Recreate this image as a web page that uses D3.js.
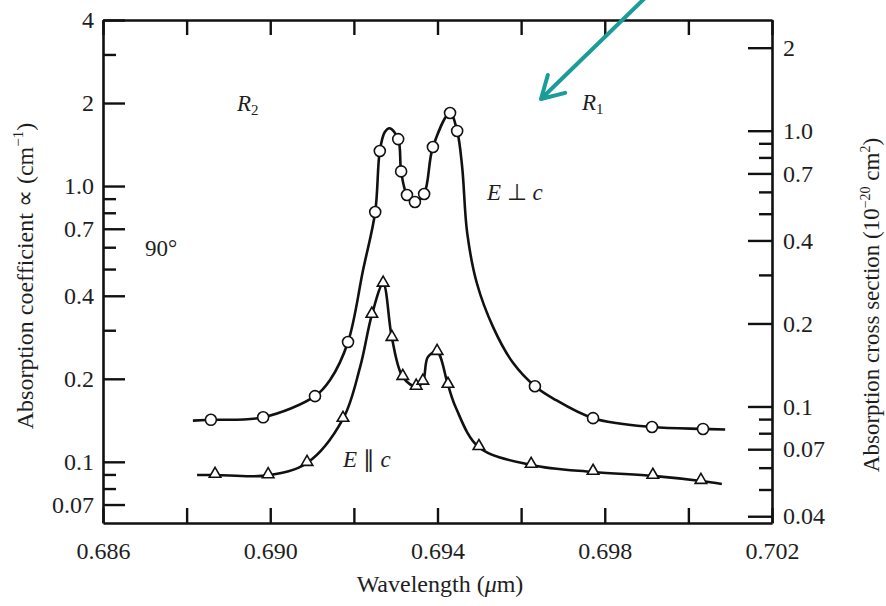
<!DOCTYPE html>
<html>
<head>
<meta charset="utf-8">
<script src="https://cdn.jsdelivr.net/npm/d3@7"></script>
<style>
  body { margin: 0; background: #fff; }
  svg text { font-family: "Liberation Serif", "Times New Roman", serif; fill: #1e1e1e; }
</style>
</head>
<body>
<div id="chart"></div>
<script>
var svgWidth = 886;
var svgHeight = 606;

// frame of the plot
var frame = { left: 103, right: 772, top: 20, bottom: 523 };

// E perpendicular c : marker points (wavelength um, alpha cm-1)
var perpMarkWl = [0.68858, 0.68983, 0.69107, 0.69186, 0.69251, 0.69262, 0.69306, 0.69313, 0.69327,
  0.69346, 0.69368, 0.69389, 0.69430, 0.69447, 0.69633, 0.69772, 0.69913, 0.70035];
var perpMarkA = [0.142, 0.145, 0.173, 0.272, 0.805, 1.34, 1.48, 1.13, 0.928,
  0.875, 0.936, 1.385, 1.84, 1.584, 0.188, 0.144, 0.1337, 0.1316];

// E perpendicular c : drawn curve
var perpLineWl = [0.68815, 0.68858, 0.68983, 0.69107, 0.69143, 0.69186, 0.69222, 0.69251, 0.69262,
  0.69274, 0.69286, 0.69306, 0.69313, 0.69327, 0.69346, 0.69368, 0.69389, 0.69430, 0.69447,
  0.69459, 0.69471, 0.69494, 0.69533, 0.69581, 0.69633, 0.69676, 0.69772, 0.69913, 0.70035, 0.70088];
var perpLineA = [0.141, 0.142, 0.145, 0.173, 0.198, 0.272, 0.496, 0.805, 1.34,
  1.57, 1.62, 1.48, 1.13, 0.928, 0.875, 0.936, 1.385, 1.84, 1.584,
  1.172, 0.676, 0.445, 0.308, 0.228, 0.188, 0.170, 0.144, 0.1337, 0.1316, 0.131];

// E parallel c : marker points
var paraMarkWl = [0.68868, 0.68995, 0.69088, 0.69174, 0.69243, 0.69270, 0.69291, 0.69317, 0.69349,
  0.69365, 0.69399, 0.69425, 0.69499, 0.69624, 0.69772, 0.69915, 0.70030];
var paraMarkA = [0.0896, 0.0893, 0.099, 0.143, 0.341, 0.442, 0.281, 0.203, 0.187,
  0.195, 0.250, 0.190, 0.113, 0.0974, 0.0919, 0.0889, 0.0852];

// E parallel c : drawn curve
var paraLineWl = [0.68825, 0.68868, 0.68995, 0.69088, 0.69174, 0.69215, 0.69243, 0.69270, 0.69291,
  0.69317, 0.69349, 0.69365, 0.69377, 0.69399, 0.69425, 0.69444, 0.69499, 0.69624, 0.69772,
  0.69915, 0.70030, 0.70080];
var paraLineA = [0.0896, 0.0896, 0.0893, 0.099, 0.143, 0.221, 0.341, 0.442, 0.281,
  0.203, 0.187, 0.195, 0.240, 0.250, 0.190, 0.157, 0.113, 0.0974, 0.0919,
  0.0889, 0.0852, 0.0831];

// ticks
var xMajor = [0.686, 0.690, 0.694, 0.698, 0.702];
var xMinor = [0.688, 0.692, 0.696, 0.700];
var leftMajor = [4, 2, 1, 0.7, 0.4, 0.2, 0.1, 0.07];
var leftMinor = [3, 0.9, 0.8, 0.6, 0.5, 0.3, 0.09, 0.08];
var rightMajor = [2, 1, 0.7, 0.4, 0.2, 0.1, 0.07, 0.04];
var rightMinor = [0.9, 0.8, 0.6, 0.5, 0.3, 0.09, 0.08, 0.06, 0.05];

// cross section = alpha / N
var sigmaFactor = 0.63;

var svg = d3.select("#chart")
  .append("svg")
  .attr("width", svgWidth)
  .attr("height", svgHeight);

svg.append("rect").attr("width", svgWidth).attr("height", svgHeight).attr("fill", "#fff");

var xScale = d3.scaleLinear().domain([0.686, 0.702]).range([frame.left, frame.right]);
var yLeft = d3.scaleLog().domain([0.06, 4]).range([frame.bottom, frame.top]);
var yRight = d3.scaleLog().domain([0.06 * sigmaFactor, 4 * sigmaFactor]).range([frame.bottom, frame.top]);

var numFmt = function(d) { return d === 1 ? "1.0" : String(d); };

function styleAxis(g, showDomain) {
  g.selectAll("line").attr("stroke", "#111").attr("stroke-width", 2.4);
  g.selectAll("text").attr("font-size", "24px").attr("fill", "#1e1e1e")
    .attr("font-family", "Liberation Serif, Times New Roman, serif");
  if (showDomain) {
    g.select(".domain").attr("stroke", "#111").attr("stroke-width", 2.6);
  } else {
    g.select(".domain").remove();
  }
}

// bottom axis
svg.append("g")
  .attr("transform", `translate(0, ${frame.bottom})`)
  .call(d3.axisBottom(xScale).tickValues(xMajor).tickFormat(d3.format(".3f"))
    .tickSize(-15).tickSizeOuter(0).tickPadding(19))
  .call(g => styleAxis(g, true));
svg.append("g")
  .attr("transform", `translate(0, ${frame.bottom})`)
  .call(d3.axisBottom(xScale).tickValues(xMinor).tickFormat("").tickSize(-15).tickSizeOuter(0))
  .call(g => styleAxis(g, false));

// top axis
svg.append("g")
  .attr("transform", `translate(0, ${frame.top})`)
  .call(d3.axisTop(xScale).tickValues(xMajor.concat(xMinor)).tickFormat("").tickSize(-15).tickSizeOuter(0))
  .call(g => styleAxis(g, true));

// left axis
svg.append("g")
  .attr("transform", `translate(${frame.left}, 0)`)
  .call(d3.axisLeft(yLeft).tickValues(leftMajor).tickFormat(numFmt)
    .tickSize(-22).tickSizeOuter(0).tickPadding(9))
  .call(g => styleAxis(g, true));
svg.append("g")
  .attr("transform", `translate(${frame.left}, 0)`)
  .call(d3.axisLeft(yLeft).tickValues(leftMinor).tickFormat("").tickSize(-13).tickSizeOuter(0))
  .call(g => styleAxis(g, false));

// right axis
svg.append("g")
  .attr("transform", `translate(${frame.right}, 0)`)
  .call(d3.axisRight(yRight).tickValues(rightMajor).tickFormat(numFmt)
    .tickSize(-24).tickSizeOuter(0).tickPadding(11))
  .call(g => styleAxis(g, true));
svg.append("g")
  .attr("transform", `translate(${frame.right}, 0)`)
  .call(d3.axisRight(yRight).tickValues(rightMinor).tickFormat("").tickSize(-13).tickSizeOuter(0))
  .call(g => styleAxis(g, false));

// curves
var line = d3.line()
  .x(d => xScale(d[0]))
  .y(d => yLeft(d[1]))
  .curve(d3.curveCatmullRom.alpha(0.5));

var perpLine = perpLineWl.map((w, i) => [w, perpLineA[i]]);
var paraLine = paraLineWl.map((w, i) => [w, paraLineA[i]]);

[perpLine, paraLine].forEach(function(pts) {
  svg.append("path")
    .datum(pts)
    .attr("d", line)
    .attr("fill", "none")
    .attr("stroke", "#111")
    .attr("stroke-width", 2.6)
    .attr("stroke-linejoin", "round");
});

// markers
svg.selectAll(".circ")
  .data(perpMarkWl.map((w, i) => [w, perpMarkA[i]]))
  .enter()
  .append("circle")
  .attr("cx", d => xScale(d[0]))
  .attr("cy", d => yLeft(d[1]))
  .attr("r", 5.5)
  .attr("fill", "#fff")
  .attr("stroke", "#111")
  .attr("stroke-width", 1.6);

svg.selectAll(".tri")
  .data(paraMarkWl.map((w, i) => [w, paraMarkA[i]]))
  .enter()
  .append("path")
  .attr("d", d3.symbol(d3.symbolTriangle, 58))
  .attr("transform", d => `translate(${xScale(d[0])}, ${yLeft(d[1]) - 1})`)
  .attr("fill", "#fff")
  .attr("stroke", "#111")
  .attr("stroke-width", 1.6);

// axis titles
svg.append("text")
  .attr("x", 440)
  .attr("y", 592)
  .attr("text-anchor", "middle")
  .attr("font-size", "24px")
  .call(t => {
    t.append("tspan").text("Wavelength (");
    t.append("tspan").attr("font-style", "italic").text("\u03bc");
    t.append("tspan").text("m)");
  });

svg.append("text")
  .attr("transform", "translate(33, 276) rotate(-90)")
  .attr("text-anchor", "middle")
  .attr("font-size", "24px")
  .call(t => {
    t.append("tspan").text("Absorption coefficient \u221d (cm");
    t.append("tspan").attr("font-size", "15px").attr("dy", -10).text("\u22121");
    t.append("tspan").attr("dy", 10).text(")");
  });

svg.append("text")
  .attr("transform", "translate(879, 305) rotate(-90)")
  .attr("text-anchor", "middle")
  .attr("font-size", "23px")
  .call(t => {
    t.append("tspan").text("Absorption cross section (10");
    t.append("tspan").attr("font-size", "14px").attr("dy", -9).text("\u221220");
    t.append("tspan").attr("dy", 9).text(" cm");
    t.append("tspan").attr("font-size", "14px").attr("dy", -9).text("2");
    t.append("tspan").attr("dy", 9).text(")");
  });

// labels in the plot
function subLabel(x, y, main, sub) {
  var t = svg.append("text").attr("x", x).attr("y", y).attr("font-size", "23px");
  t.append("tspan").attr("font-style", "italic").text(main);
  t.append("tspan").attr("font-size", "15px").attr("dy", 4).text(sub);
}
subLabel(237, 111, "R", "2");
subLabel(582, 110, "R", "1");

svg.append("text").attr("x", 145).attr("y", 256).attr("font-size", "23px").text("90\u00b0");

svg.append("text").attr("x", 487).attr("y", 200).attr("font-size", "23px")
  .call(t => {
    t.append("tspan").attr("font-style", "italic").text("E");
    t.append("tspan").text(" \u22a5 ");
    t.append("tspan").attr("font-style", "italic").text("c");
  });

svg.append("text").attr("x", 343).attr("y", 467).attr("font-size", "23px")
  .call(t => {
    t.append("tspan").attr("font-style", "italic").text("E");
    t.append("tspan").text(" \u2225 ");
    t.append("tspan").attr("font-style", "italic").text("c");
  });

// teal arrow
var tail = [646, -3], tip = [541, 99];
var ang = Math.atan2(tail[1] - tip[1], tail[0] - tip[0]);
var armLen = 25, spread = Math.PI / 6;
var arm1 = [tip[0] + armLen * Math.cos(ang + spread), tip[1] + armLen * Math.sin(ang + spread)];
var arm2 = [tip[0] + armLen * Math.cos(ang - spread), tip[1] + armLen * Math.sin(ang - spread)];
svg.append("path")
  .attr("d", `M${tail[0]},${tail[1]}L${tip[0]},${tip[1]}M${arm1[0]},${arm1[1]}L${tip[0]},${tip[1]}L${arm2[0]},${arm2[1]}`)
  .attr("fill", "none")
  .attr("stroke", "#1a9c98")
  .attr("stroke-width", 4)
  .attr("stroke-linecap", "round")
  .attr("stroke-linejoin", "round");
</script>
</body>
</html>
